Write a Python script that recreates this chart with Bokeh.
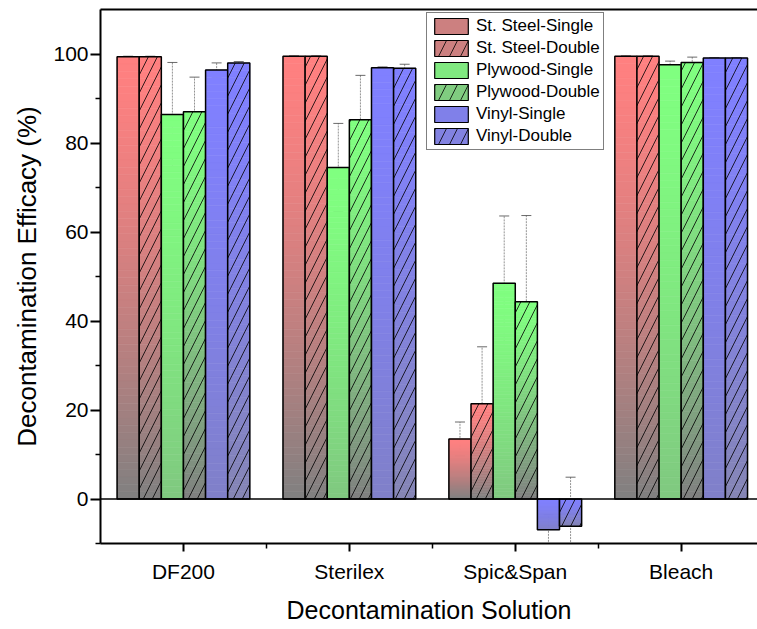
import numpy as np
from bokeh.plotting import figure
from bokeh.models import (Range1d, FixedTicker, LinearAxis, Span, Whisker, TeeHead,
                          ColumnDataSource, Legend, LegendItem)
from bokeh.embed import file_html
from bokeh.resources import INLINE

# ---------------- data ----------------
categories = ["DF200", "Sterilex", "Spic&Span", "Bleach"]
series_names = ["St. Steel-Single", "St. Steel-Double", "Plywood-Single",
                "Plywood-Double", "Vinyl-Single", "Vinyl-Double"]

ss_single = [99.4, 99.5, 13.5, 99.5]
ss_double = [99.4, 99.5, 21.4, 99.5]
pw_single = [86.4, 74.5, 48.5, 97.6]
pw_double = [87.0, 85.2, 44.3, 98.1]
vi_single = [96.4, 96.9, -6.9, 99.1]
vi_double = [98.0, 96.8, -6.1, 99.1]

ss_single_err = [0.1, 0.1, 3.8, 0.1]
ss_double_err = [0.1, 0.1, 12.8, 0.1]
pw_single_err = [11.7, 9.9, 15.1, 0.8]
pw_double_err = [7.8, 10.0, 19.4, 1.2]
vi_single_err = [1.6, 0.2, 3.4, 0.1]
vi_double_err = [0.3, 0.9, 11.0, 0.1]

values = [ss_single, ss_double, pw_single, pw_double, vi_single, vi_double]
errors = [ss_single_err, ss_double_err, pw_single_err, pw_double_err, vi_single_err, vi_double_err]

# ---------------- styles ----------------
top_colors = [(255, 128, 128), (255, 128, 128), (128, 255, 128), (128, 255, 128),
              (128, 128, 255), (128, 128, 255)]
bottom_colors = [(128, 128, 128), (128, 128, 128), (128, 200, 128), (128, 128, 128),
                 (128, 128, 200), (133, 133, 180)]
hatched = [False, True, False, True, False, True]
FONT = "Liberation Sans"
N_SLICES = 60
GAMMA = 1.4
group_width = 0.8
bar_w = group_width / len(series_names)

def hatch_kw(scale):
    return dict(hatch_pattern="/", hatch_color="black", hatch_weight=0.8, hatch_scale=scale)

def hexc(c):
    return "#%02x%02x%02x" % tuple(int(round(v)) for v in c)

p = figure(width=757, height=629, output_backend="svg", toolbar_location=None,
           x_range=Range1d(0.5, 4.46), y_range=Range1d(-10, 110),
           min_border_left=100, min_border_right=0, min_border_top=9, min_border_bottom=86)
p.outline_line_color = None
p.xgrid.visible = False
p.ygrid.visible = False

legend_items = []
for j, (vals, errs) in enumerate(zip(values, errors)):
    xs = [i + 1 + (j - 2.5) * bar_w for i in range(len(categories))]
    # gradient slices
    L, R, T, B, C = [], [], [], [], []
    for x, v in zip(xs, vals):
        top = max(v, 0.0)
        bot = min(v, 0.0)
        h = top - bot
        for k in range(N_SLICES):
            f = ((k + 0.5) / N_SLICES) ** GAMMA
            col = [top_colors[j][c] + (bottom_colors[j][c] - top_colors[j][c]) * f for c in range(3)]
            L.append(x - bar_w / 2)
            R.append(x + bar_w / 2)
            T.append(top - h * k / N_SLICES)
            B.append(top - h * (k + 1) / N_SLICES)
            C.append(hexc(col))
    src = ColumnDataSource(dict(left=L, right=R, top=T, bottom=B, color=C))
    p.quad(left="left", right="right", top="top", bottom="bottom", source=src,
           fill_color="color", line_color="color", line_width=0.6)
    # outlines + hatch
    osrc = ColumnDataSource(dict(left=[x - bar_w / 2 for x in xs], right=[x + bar_w / 2 for x in xs],
                                 top=[max(v, 0) for v in vals], bottom=[min(v, 0) for v in vals]))
    kw = hatch_kw(18) if hatched[j] else {}
    p.quad(left="left", right="right", top="top", bottom="bottom", source=osrc,
           fill_color=None, line_color="black", line_width=1.5, **kw)
    # error bars
    esrc = ColumnDataSource(dict(base=xs, upper=[v + e for v, e in zip(vals, errs)],
                                 lower=[v - e for v, e in zip(vals, errs)]))
    wh = Whisker(base="base", upper="upper", lower="lower", source=esrc, dimension="height",
                 line_color="#777777", line_width=0.8, line_dash="2 1",
                 upper_head=TeeHead(size=10, line_color="#444444", line_width=0.8),
                 lower_head=TeeHead(size=10, line_color="#444444", line_width=0.8))
    p.add_layout(wh)
    # legend proxy (not drawn in the plot: NaN geometry)
    lg_src = ColumnDataSource(dict(left=[np.nan], right=[np.nan], top=[np.nan], bottom=[np.nan]))
    lr = p.quad(left="left", right="right", top="top", bottom="bottom", source=lg_src,
                fill_color=hexc([0.6 * top_colors[j][c] + 0.4 * bottom_colors[j][c] for c in range(3)]),
                line_color="black", line_width=1.2, **(hatch_kw(22) if hatched[j] else {}))
    legend_items.append(LegendItem(label=series_names[j], renderers=[lr]))

p.add_layout(Span(location=0, dimension="width", line_color="black", line_width=1.5))

legend = Legend(items=legend_items, location=(326, 393), glyph_width=42, glyph_height=20,
                label_height=20, spacing=2, padding=3, margin=0, label_standoff=4,
                border_line_color="black", border_line_width=1,
                label_text_font=FONT, label_text_font_size="17px", label_text_color="black")
p.add_layout(legend)

xa = p.below[0]
ya = p.left[0]
xa.ticker = FixedTicker(ticks=[1, 2, 3, 4], minor_ticks=[1.5, 2.5, 3.5])
xa.major_label_overrides = {1: categories[0], 2: categories[1], 3: categories[2], 4: categories[3]}
ya.ticker = FixedTicker(ticks=[0, 20, 40, 60, 80, 100], minor_ticks=[-10, 10, 30, 50, 70, 90])

for ax in (xa, ya):
    ax.axis_line_width = 2
    ax.axis_line_color = "black"
    ax.major_tick_line_width = 2
    ax.minor_tick_line_width = 1.5
    ax.major_tick_in = 0
    ax.minor_tick_in = 0
    ax.major_label_text_font = FONT
    ax.major_label_text_font_size = "21px"
    ax.major_label_text_color = "black"
    ax.axis_label_text_font = FONT
    ax.axis_label_text_font_style = "normal"
    ax.axis_label_text_color = "black"

xa.axis_label_text_font_size = "25px"
ya.axis_label_text_font_size = "26px"
xa.major_tick_out = 8
xa.minor_tick_out = 5
xa.major_label_standoff = 8
xa.axis_label = "Decontamination Solution"
xa.axis_label_standoff = 10
ya.major_tick_out = 10
ya.minor_tick_out = 5
ya.major_label_standoff = 2
ya.axis_label = "Decontamination Efficacy (%)"
ya.axis_label_standoff = 8

top_ax = LinearAxis(ticker=FixedTicker(ticks=[], minor_ticks=[]), major_label_text_font_size="0px",
                    major_tick_out=0, minor_tick_out=0, major_tick_in=0, minor_tick_in=0,
                    axis_line_width=2, axis_line_color="black", major_label_standoff=0)
p.add_layout(top_ax, "above")

open("out.html", "w").write(file_html(p, INLINE))
